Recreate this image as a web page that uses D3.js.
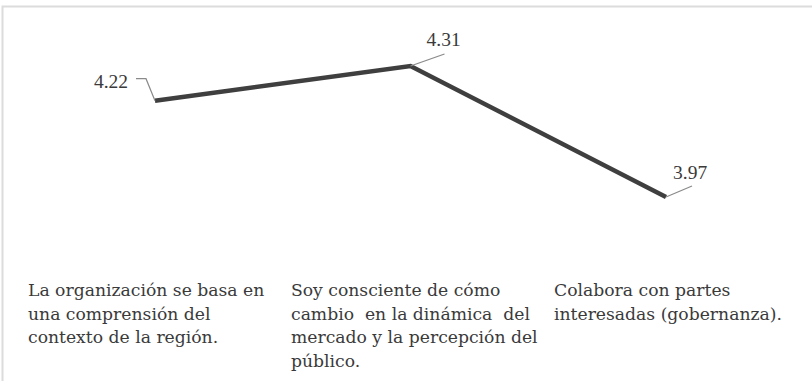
<!DOCTYPE html>
<html>
<head>
<meta charset="utf-8">
<script src="https://cdn.jsdelivr.net/npm/d3@7"></script>
<style>
  html, body { margin: 0; padding: 0; background: #fff; }
  #viz { width: 812px; height: 381px; }
</style>
</head>
<body>
<div id="viz"></div>
<script>
// ========================================
// Data
// ========================================

var categories = ['c1', 'c2', 'c3'];
var category_lines = [
   ['La organización se basa en', 'una comprensión del', 'contexto de la región.'],
   ['Soy consciente de cómo', 'cambio  en la dinámica  del', 'mercado y la percepción del', 'público.'],
   ['Colabora con partes', 'interesadas (gobernanza).']
];
var values = [4.22, 4.31, 3.97];
var value_labels = ['4.22', '4.31', '3.97'];

// ========================================
// SVG
// ========================================

var width = 812,
    height = 381;

var line_color = '#3f3f3f',
    leader_color = '#8a8a8a',
    text_color = '#3a3a3a',
    frame_color = '#dcdcdc';

var svg = d3.select('#viz')
   .append('svg')
   .attr('width', width)
   .attr('height', height)
   .style('background-color', '#fff');

// light frame (top + left only are visible)
svg.append('path')
   .attr('d', 'M2.5,381 V6.5 H812')
   .style('fill', 'none')
   .style('stroke', frame_color)
   .style('stroke-width', 2);

// Scales
var x = d3.scalePoint().domain(categories).range([155, 666]);
var x_text = d3.scaleBand().domain(categories).range([28, 817]);
var y = d3.scaleLinear().domain([3.97, 4.31]).range([197, 66]);

var points = categories.map((c, i) => ({ cat: c, value: values[i], label: value_labels[i] }));

// The line
svg.append('path')
   .datum(points)
   .attr('d', d3.line().x(d => x(d.cat)).y(d => y(d.value)))
   .style('fill', 'none')
   .style('stroke', line_color)
   .style('stroke-width', 4.5)
   .style('stroke-linejoin', 'miter');

// Data label placement (leader line offsets + text anchor)
var label_pos = [
   { leader: [[0, 0], [-9, -22], [-19, -22]], tx: -27, ty: -13, anchor: 'end' },
   { leader: [[0, 0], [34, -12]], tx: 16, ty: -20, anchor: 'start' },
   { leader: [[0, 0], [26, -11]], tx: 7, ty: -18, anchor: 'start' }
];

var labels = svg.selectAll('.dlabel')
   .data(points)
   .enter()
   .append('g')
   .attr('class', 'dlabel')
   .attr('transform', d => `translate(${x(d.cat)}, ${y(d.value)})`);

labels.append('path')
   .attr('d', (d, i) => d3.line()(label_pos[i].leader))
   .style('fill', 'none')
   .style('stroke', leader_color)
   .style('stroke-width', 1.2);

labels.append('text')
   .attr('x', (d, i) => label_pos[i].tx)
   .attr('y', (d, i) => label_pos[i].ty)
   .attr('text-anchor', (d, i) => label_pos[i].anchor)
   .style('font-family', 'Liberation Serif')
   .style('font-size', '19.5px')
   .style('fill', text_color)
   .text(d => d.label);

// Category labels
var cat_text = svg.selectAll('.cat')
   .data(categories)
   .enter()
   .append('text')
   .attr('class', 'cat')
   .attr('x', d => x_text(d))
   .attr('y', 296)
   .style('font-family', 'DejaVu Serif')
   .style('font-size', '17.2px')
   .style('fill', text_color)
   .style('white-space', 'pre');

cat_text.selectAll('tspan')
   .data((d, i) => category_lines[i])
   .enter()
   .append('tspan')
   .attr('x', function() { return this.parentNode.getAttribute('x'); })
   .attr('dy', (d, i) => i === 0 ? 0 : 23.5)
   .text(d => d);
</script>
</body>
</html>
